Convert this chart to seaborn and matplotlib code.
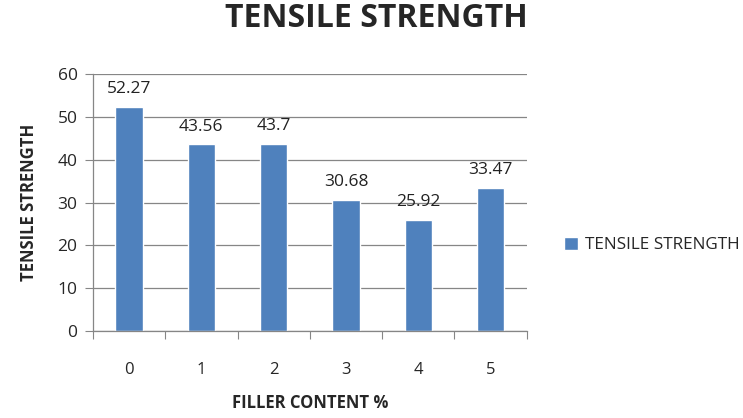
import matplotlib
matplotlib.use("Agg")
import matplotlib.pyplot as plt
import seaborn as sns
import pandas as pd

filler = ["0", "1", "2", "3", "4", "5"]
strength = [52.27, 43.56, 43.7, 30.68, 25.92, 33.47]
series_name = "TENSILE STRENGTH"

df = pd.DataFrame({"Filler": filler, "Strength": strength, "Series": series_name})

sns.set_style("white")
plt.rcParams['font.family'] = ['Open Sans', 'DejaVu Sans']

fig = plt.figure(figsize=(7.43, 4.18), dpi=100)
ax = fig.add_axes([0.125, 0.208, 0.584, 0.615])

sns.barplot(data=df, x="Filler", y="Strength", hue="Series", palette=["#4F81BD"],
            width=0.38, ax=ax, saturation=1)

ax.set_ylim(0, 60)
ax.set_yticks(range(0, 61, 10))
ax.set_xlim(-0.5, len(filler) - 0.5)
ax.yaxis.grid(True, color="#868686", linewidth=0.9)
ax.set_axisbelow(True)

# tick marks between categories, labels at centres
ax.set_xticks([i - 0.5 for i in range(len(filler) + 1)])
ax.set_xticklabels([])
ax.set_xticks(range(len(filler)), minor=True)
ax.set_xticklabels(filler, minor=True, fontsize=12)
ax.tick_params(axis="x", which="major", length=6, color="#868686", direction="out", bottom=True)
ax.tick_params(axis="x", which="minor", length=0, pad=22)
ax.tick_params(axis="y", length=6, color="#868686", direction="out", left=True, labelsize=12.5, pad=5)

for side in ["top", "right"]:
    ax.spines[side].set_visible(False)
for side in ["left", "bottom"]:
    ax.spines[side].set_color("#868686")
    ax.spines[side].set_linewidth(0.9)

for c in ax.containers:
    ax.bar_label(c, labels=[f"{v:g}" for v in strength], padding=7, fontsize=12.5, color="#222222")

ax.set_xlabel("FILLER CONTENT %", fontsize=12, fontweight="bold", labelpad=12)
ax.set_ylabel("TENSILE STRENGTH", fontsize=12, fontweight="bold", labelpad=14)
fig.suptitle("TENSILE STRENGTH", x=0.507, y=0.995, fontsize=23, fontweight="bold")

ax.legend(loc="center left", bbox_to_anchor=(1.05, 0.335), frameon=False, fontsize=12.3,
          handlelength=0.8, handleheight=0.8, handletextpad=0.45)

fig.savefig("out.png", dpi=100)
